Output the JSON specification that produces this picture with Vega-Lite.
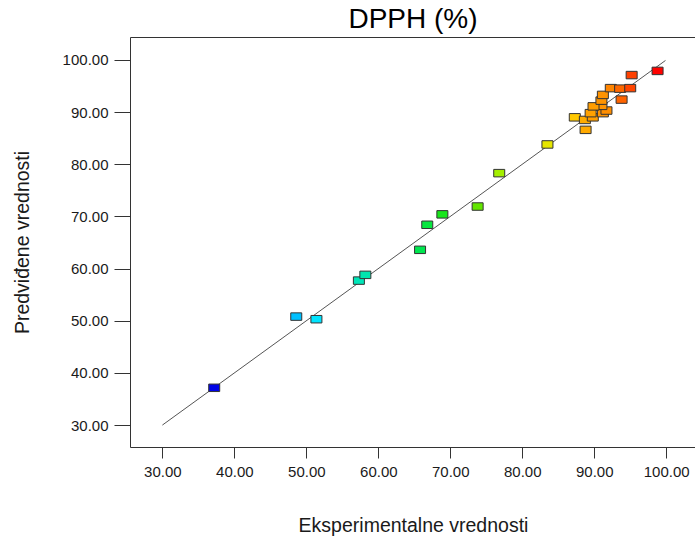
{
  "$schema": "https://vega.github.io/schema/vega-lite/v6.json",
  "width": 566,
  "height": 410,
  "autosize": {"type": "none"},
  "padding": {"left": 130, "top": 37, "right": 0, "bottom": 94},
  "background": "white",
  "title": {
    "text": "DPPH (%)",
    "font": "Liberation Sans",
    "fontSize": 28,
    "fontWeight": "normal",
    "color": "#000000",
    "anchor": "middle",
    "offset": 3
  },
  "config": {
    "view": {"stroke": "#333333", "strokeWidth": 1},
    "axis": {
      "domain": false,
      "grid": false,
      "tickColor": "#333333",
      "tickWidth": 1,
      "labelFont": "Liberation Sans",
      "labelFontSize": 15,
      "labelColor": "#1a1a1a",
      "titleFont": "Liberation Sans",
      "titleFontSize": 19.5,
      "titleFontWeight": "normal",
      "titleColor": "#1a1a1a"
    }
  },
  "layer": [
    {
      "data": {"values": [{"x": 30, "y": 30}, {"x": 99.9, "y": 99.9}]},
      "mark": {"type": "line", "color": "#555555", "strokeWidth": 1},
      "encoding": {
        "x": {"field": "x", "type": "quantitative"},
        "y": {"field": "y", "type": "quantitative"}
      }
    },
    {
      "data": {
        "values": [
          {"actual": 37.2, "predicted": 37.15},
          {"actual": 48.6, "predicted": 50.8},
          {"actual": 51.4, "predicted": 50.3},
          {"actual": 57.3, "predicted": 57.7},
          {"actual": 58.2, "predicted": 58.8},
          {"actual": 65.8, "predicted": 63.6},
          {"actual": 66.8, "predicted": 68.4},
          {"actual": 68.9, "predicted": 70.4},
          {"actual": 73.8, "predicted": 71.9},
          {"actual": 76.8, "predicted": 78.3},
          {"actual": 83.5, "predicted": 83.8},
          {"actual": 87.3, "predicted": 89.0},
          {"actual": 88.8, "predicted": 86.6},
          {"actual": 88.7, "predicted": 88.5},
          {"actual": 89.8, "predicted": 89.0},
          {"actual": 89.5, "predicted": 89.8},
          {"actual": 91.2, "predicted": 89.8},
          {"actual": 91.7, "predicted": 90.3},
          {"actual": 91.0, "predicted": 91.2},
          {"actual": 89.9, "predicted": 91.1},
          {"actual": 91.0, "predicted": 92.2},
          {"actual": 91.2, "predicted": 93.3},
          {"actual": 92.3, "predicted": 94.6},
          {"actual": 93.6, "predicted": 94.5},
          {"actual": 95.0, "predicted": 94.6},
          {"actual": 93.8, "predicted": 92.4},
          {"actual": 95.2, "predicted": 97.1},
          {"actual": 98.8, "predicted": 97.9}
        ]
      },
      "mark": {
        "type": "point",
        "shape": "M-1,-0.68H1V0.68H-1Z",
        "size": 121,
        "filled": true,
        "opacity": 1,
        "stroke": "#333333",
        "strokeWidth": 1
      },
      "encoding": {
        "x": {
          "field": "actual",
          "type": "quantitative",
          "scale": {"domain": [25.5, 104.14], "nice": false, "zero": false},
          "axis": {
            "title": "Eksperimentalne vrednosti",
            "values": [30, 40, 50, 60, 70, 80, 90, 100],
            "format": ".2f",
            "tickSize": 11,
            "labelPadding": 6,
            "titlePadding": 37
          }
        },
        "y": {
          "field": "predicted",
          "type": "quantitative",
          "scale": {"domain": [25.8, 104.4], "nice": false, "zero": false},
          "axis": {
            "title": "Predviđene vrednosti",
            "values": [30, 40, 50, 60, 70, 80, 90, 100],
            "format": ".2f",
            "tickSize": 16,
            "labelPadding": 6,
            "titlePadding": 30
          }
        },
        "fill": {
          "field": "actual",
          "type": "quantitative",
          "legend": null,
          "scale": {
            "domain": [37, 48.5, 51.5, 58, 66, 69, 74, 77, 83.5, 87.3, 89, 92, 94, 95.2, 99],
            "range": ["#0000e6", "#00bfff", "#00e5ff", "#00e6b0", "#00e64d", "#19e619", "#66e600", "#a8f000", "#e6e600", "#ffc800", "#ffa500", "#ff8c00", "#ff5f00", "#ff4000", "#ff0000"],
            "interpolate": "rgb"
          }
        }
      }
    }
  ]
}
